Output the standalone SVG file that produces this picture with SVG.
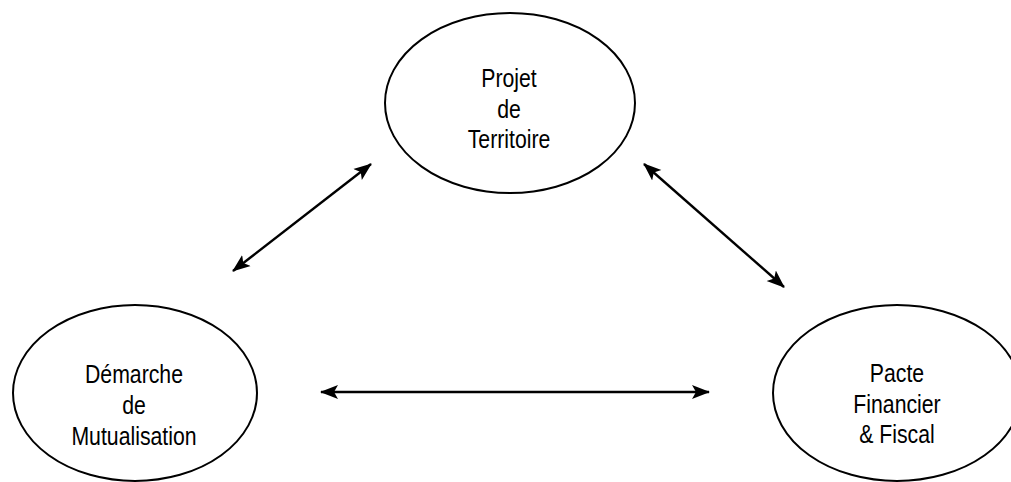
<svg xmlns="http://www.w3.org/2000/svg" width="1011" height="482" viewBox="0 0 1011 482">
<style>
.node ellipse{fill:#fff;stroke:#000;stroke-width:2}
.node text{font-family:"Liberation Sans",Arial,sans-serif;font-size:25px;fill:#000;text-anchor:middle}
.conn line{stroke:#000;stroke-width:2.4}
</style>
<defs>
<marker id="ah" markerUnits="userSpaceOnUse" markerWidth="20" markerHeight="16" refX="17" refY="8" orient="auto-start-reverse">
<path d="M0,1 L18,8 L0,15 L4,8 Z" fill="#000"/>
</marker>
</defs>
<rect width="1011" height="482" fill="#fff"/>
<g id="projet" class="node">
<ellipse cx="510" cy="103" rx="125" ry="90"/>
<g transform="translate(509,0) scale(0.85,1)">
<text x="0" y="87">Projet</text>
<text x="0" y="118">de</text>
<text x="0" y="148">Territoire</text>
</g>
</g>
<g id="demarche" class="node">
<ellipse cx="135" cy="393" rx="122" ry="88"/>
<g transform="translate(134,0) scale(0.85,1)">
<text x="0" y="383">Démarche</text>
<text x="0" y="414">de</text>
<text x="0" y="445">Mutualisation</text>
</g>
</g>
<g id="pacte" class="node">
<ellipse cx="897" cy="393" rx="124" ry="88"/>
<g transform="translate(897,0) scale(0.85,1)">
<text x="0" y="382">Pacte</text>
<text x="0" y="413">Financier</text>
<text x="0" y="443">&amp; Fiscal</text>
</g>
</g>
<g id="connectors" class="conn">
<line x1="233" y1="271" x2="371" y2="164" marker-start="url(#ah)" marker-end="url(#ah)"/>
<line x1="644" y1="164" x2="784" y2="287" marker-start="url(#ah)" marker-end="url(#ah)"/>
<line x1="321" y1="392" x2="709" y2="392" marker-start="url(#ah)" marker-end="url(#ah)"/>
</g>
</svg>
